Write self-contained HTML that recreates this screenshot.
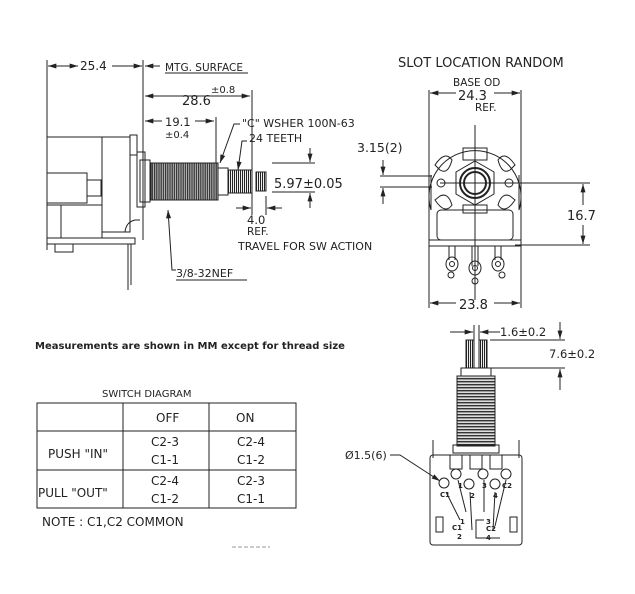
<!DOCTYPE html>
<html><head><meta charset="utf-8"><style>
html,body{margin:0;padding:0;background:#fff;}
svg{display:block;}
text{font-family:"DejaVu Sans","Liberation Sans",sans-serif;fill:#222;}
</style></head><body>
<svg width="635" height="594" viewBox="0 0 635 594" xmlns="http://www.w3.org/2000/svg">
<defs>
<marker id="a" viewBox="0 0 10 6" refX="10" refY="3" markerWidth="9" markerHeight="5" orient="auto-start-reverse"><path d="M0,0L10,3L0,6z" fill="#222"/></marker>
<pattern id="thr" width="2.2" height="10" patternUnits="userSpaceOnUse"><rect width="2.2" height="10" fill="#bbb"/><rect width="1.2" height="10" fill="#333"/></pattern>
<pattern id="thh" width="10" height="3" patternUnits="userSpaceOnUse"><rect width="10" height="3" fill="#ddd"/><rect width="10" height="1.4" fill="#333"/></pattern>
<pattern id="spl" width="2" height="10" patternUnits="userSpaceOnUse"><rect width="2" height="10" fill="#eee"/><rect width="1" height="10" fill="#222"/></pattern>
</defs>
<g stroke="#222" stroke-width="1" fill="none">
<!-- LEFT SIDE VIEW -->
<line x1="47" y1="60" x2="47" y2="250"/>
<line x1="143" y1="60" x2="143" y2="240"/>
<line x1="48" y1="66" x2="78" y2="66" marker-end="url(#a)"/><line x1="48" y1="66" x2="78" y2="66" marker-start="url(#a)"/>
<line x1="112" y1="66" x2="142" y2="66" marker-end="url(#a)"/>
<line x1="145" y1="66" x2="160" y2="66" marker-start="url(#a)"/>
<line x1="145" y1="96" x2="250" y2="96" marker-start="url(#a)" marker-end="url(#a)"/>
<line x1="252" y1="90" x2="252" y2="215"/>
<line x1="145" y1="121" x2="162" y2="121" marker-start="url(#a)"/><line x1="195" y1="121" x2="214" y2="121" marker-end="url(#a)"/>
<line x1="216" y1="117" x2="216" y2="165"/>
<polyline points="240,124 234,124 220,163" marker-end="url(#a)"/>
<polyline points="247,141 242,141 238,170" marker-end="url(#a)"/>
<line x1="272" y1="163" x2="315" y2="163"/><line x1="272" y1="192" x2="315" y2="192"/>
<line x1="310" y1="148" x2="310" y2="162" marker-end="url(#a)"/>
<line x1="310" y1="208" x2="310" y2="193" marker-end="url(#a)"/>
<line x1="266" y1="196" x2="266" y2="215"/>
<line x1="236" y1="208" x2="251" y2="208" marker-end="url(#a)"/>
<line x1="282" y1="208" x2="267" y2="208" marker-end="url(#a)"/>
<polyline points="176,270 172,270 168,210" marker-end="url(#a)"/>
<!-- body -->
<rect x="47" y="137" width="55" height="101"/>
<rect x="102" y="137" width="28" height="95"/>
<rect x="47" y="173" width="40" height="30"/>
<rect x="87" y="180" width="14" height="16"/>
<rect x="47" y="205" width="14" height="33"/>
<rect x="61" y="205" width="41" height="33"/>
<rect x="47" y="238" width="88" height="6"/>
<rect x="55" y="244" width="18" height="8"/>
<rect x="130" y="135" width="7" height="20"/>
<rect x="137" y="152" width="8" height="55"/>
<rect x="140" y="160" width="10" height="42"/>
<line x1="128" y1="244" x2="128" y2="290"/><line x1="131" y1="244" x2="131" y2="285"/>
<path d="M102,232 L125,232 Q126,222 135,220 L140,220"/>
<rect x="151" y="163" width="67" height="37" fill="url(#thr)"/>
<rect x="218" y="168" width="10" height="27" fill="#fff"/>
<rect x="228" y="170" width="24" height="23" fill="url(#spl)"/>
<rect x="256" y="172" width="10" height="19" fill="url(#spl)"/>
<line x1="176" y1="280" x2="247" y2="280"/>
<line x1="165" y1="73" x2="248" y2="73"/>
<!-- TOP RIGHT VIEW -->
<line x1="429" y1="90" x2="429" y2="308"/>
<line x1="521" y1="90" x2="521" y2="308"/>
<line x1="430" y1="93" x2="456" y2="93" marker-start="url(#a)"/><line x1="494" y1="93" x2="520" y2="93" marker-end="url(#a)"/>
<line x1="430" y1="303" x2="456" y2="303" marker-start="url(#a)"/><line x1="494" y1="303" x2="520" y2="303" marker-end="url(#a)"/>
<path d="M431,210 A46,46 0 1 1 519,210"/>
<line x1="431" y1="175" x2="431" y2="210"/><line x1="519" y1="175" x2="519" y2="210"/>
<circle cx="441" cy="183" r="4"/><circle cx="509" cy="183" r="4"/>
<path d="M435,165 Q445,150 452,160 Q448,175 440,170z"/>
<path d="M515,165 Q505,150 498,160 Q502,175 510,170z"/>
<path d="M435,200 Q445,215 452,205 Q448,192 440,196z"/>
<path d="M515,200 Q505,215 498,205 Q502,192 510,196z"/>
<rect x="463" y="148" width="24" height="12"/>
<rect x="463" y="205" width="24" height="8"/>
<polygon points="475,161 494,172 494,194 475,205 456,194 456,172"/>
<circle cx="475" cy="183" r="15" stroke-width="2"/>
<circle cx="475" cy="183" r="11" stroke-width="2"/>
<line x1="475" y1="125" x2="475" y2="300"/>
<line x1="440" y1="183" x2="590" y2="183"/>
<rect x="437" y="210" width="76" height="30" rx="4"/>
<rect x="429" y="240" width="92" height="6"/>
<path d="M449,246 v14 M455,246 v14 M472,246 v20 M478,246 v20 M495,246 v14 M501,246 v14"/>
<ellipse cx="452" cy="264" rx="6" ry="7"/><circle cx="452" cy="264" r="2.5"/>
<ellipse cx="475" cy="268" rx="6" ry="7"/><circle cx="475" cy="268" r="2.5"/>
<ellipse cx="498" cy="264" rx="6" ry="7"/><circle cx="498" cy="264" r="2.5"/>
<circle cx="451" cy="275" r="3"/><circle cx="475" cy="281" r="3"/><circle cx="502" cy="275" r="3"/>
<line x1="380" y1="176" x2="432" y2="176"/><line x1="380" y1="187" x2="432" y2="187"/>
<line x1="383" y1="160" x2="383" y2="175" marker-end="url(#a)"/>
<line x1="383" y1="204" x2="383" y2="188" marker-end="url(#a)"/>
<line x1="515" y1="245" x2="590" y2="245"/>
<line x1="583" y1="184" x2="583" y2="205" marker-start="url(#a)"/>
<line x1="583" y1="225" x2="583" y2="244" marker-end="url(#a)"/>
<!-- BOTTOM RIGHT VIEW -->
<line x1="474" y1="325" x2="474" y2="345"/><line x1="479" y1="325" x2="479" y2="345"/>
<line x1="450" y1="332" x2="473" y2="332" marker-end="url(#a)"/>
<line x1="500" y1="332" x2="480" y2="332" marker-end="url(#a)"/>
<rect x="466" y="340" width="8" height="28" fill="url(#spl)"/>
<rect x="479" y="340" width="8" height="28" fill="url(#spl)"/>
<rect x="461" y="368" width="30" height="8"/>
<line x1="490" y1="340" x2="565" y2="340"/><line x1="490" y1="368" x2="565" y2="368"/>
<line x1="560" y1="322" x2="560" y2="339" marker-end="url(#a)"/>
<line x1="560" y1="390" x2="560" y2="369" marker-end="url(#a)"/>
<rect x="457" y="376" width="38" height="70" fill="url(#thh)"/>
<rect x="453" y="445" width="46" height="8"/>
<rect x="430" y="455" width="92" height="90" rx="3"/>
<line x1="433" y1="440" x2="433" y2="458"/><line x1="519" y1="440" x2="519" y2="458"/>
<rect x="450" y="455" width="12" height="14"/><rect x="470" y="455" width="12" height="14"/><rect x="490" y="455" width="12" height="14"/>
<circle cx="444" cy="483" r="5"/><circle cx="456" cy="474" r="5"/><circle cx="469" cy="484" r="5"/>
<circle cx="483" cy="474" r="5"/><circle cx="495" cy="484" r="5"/><circle cx="506" cy="474" r="5"/>
<path d="M446,492 L460,520 M458,480 L466,512 M470,492 L472,530 M484,480 L484,512 M495,492 L493,530 M506,480 L495,526"/>
<rect x="436" y="517" width="7" height="15"/><rect x="510" y="517" width="7" height="15"/>
<path d="M484,520 L476,520 L476,538 L500,538"/>
<polyline points="390,455 400,455 440,481" marker-end="url(#a)"/>
<!-- TABLE -->
<rect x="37" y="403" width="259" height="105"/>
<line x1="123" y1="403" x2="123" y2="508"/>
<line x1="209" y1="403" x2="209" y2="508"/>
<line x1="37" y1="431" x2="296" y2="431"/>
<line x1="37" y1="470" x2="296" y2="470"/>
<line x1="232" y1="547" x2="270" y2="547" stroke="#999" stroke-dasharray="4,2"/>
</g>
<g font-size="12">
<text x="80" y="70">25.4</text>
<text x="165" y="71" font-size="10.5">MTG. SURFACE</text>
<text x="182" y="105" font-size="13">28.6</text>
<text x="211" y="93" font-size="10">±0.8</text>
<text x="165" y="126" font-size="11.5">19.1</text>
<text x="165" y="138" font-size="10">±0.4</text>
<text x="242" y="127" font-size="11">"C" WSHER 100N-63</text>
<text x="249" y="142" font-size="11">24 TEETH</text>
<text x="274" y="188" font-size="13">5.97±0.05</text>
<text x="247" y="224" font-size="11.5">4.0</text>
<text x="247" y="235" font-size="10.5">REF.</text>
<text x="238" y="250" font-size="11">TRAVEL FOR SW ACTION</text>
<text x="176" y="277" font-size="11">3/8-32NEF</text>
<text x="398" y="67" font-size="13">SLOT LOCATION RANDOM</text>
<text x="453" y="86" font-size="10.5">BASE OD</text>
<text x="458" y="100" font-size="13">24.3</text>
<text x="475" y="111" font-size="10.5">REF.</text>
<text x="357" y="152" font-size="12.5">3.15(2)</text>
<text x="567" y="220" font-size="13">16.7</text>
<text x="459" y="309" font-size="13">23.8</text>
<text x="500" y="336" font-size="11.5">1.6±0.2</text>
<text x="549" y="358" font-size="11.5">7.6±0.2</text>
<text x="345" y="459" font-size="11">Ø1.5(6)</text>
<g font-size="7" font-weight="bold"><text x="440" y="497">C1</text><text x="458" y="488">1</text><text x="470" y="498">2</text><text x="482" y="488">3</text><text x="493" y="498">4</text><text x="502" y="488">C2</text>
<text x="460" y="524">1</text><text x="452" y="530">C1</text><text x="457" y="539">2</text><text x="486" y="524">3</text><text x="486" y="531">C2</text><text x="486" y="540">4</text></g>
<text x="35" y="349" font-size="10" font-weight="bold" font-family="Liberation Sans">Measurements are shown in MM except for thread size</text>
<text x="102" y="397" font-size="10">SWITCH DIAGRAM</text>
<text x="156" y="422">OFF</text>
<text x="236" y="422">ON</text>
<text x="48" y="458">PUSH "IN"</text>
<text x="38" y="497">PULL "OUT"</text>
<text x="151" y="446">C2-3</text><text x="151" y="464">C1-1</text>
<text x="237" y="446">C2-4</text><text x="237" y="464">C1-2</text>
<text x="151" y="485">C2-4</text><text x="151" y="503">C1-2</text>
<text x="237" y="485">C2-3</text><text x="237" y="503">C1-1</text>
<text x="42" y="526">NOTE : C1,C2 COMMON</text>
</g>
</svg>
</body></html>
